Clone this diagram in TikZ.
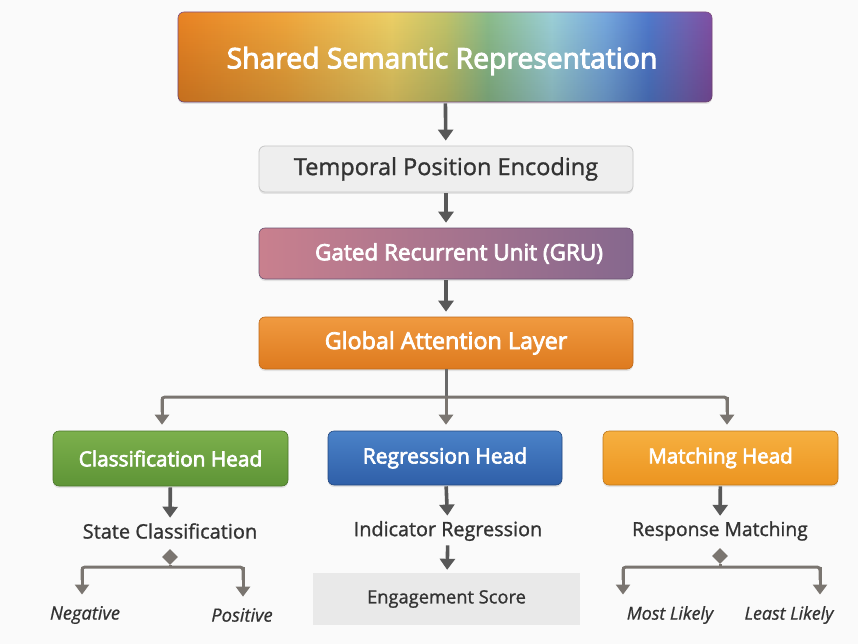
\documentclass[tikz,border=0pt]{standalone}
\usepackage{fontspec}
\setmainfont{Open Sans}
\newfontface\headface{Open Sans}[FakeBold=3.2]
\newfontface\bodyface{Open Sans}[FakeBold=1.2]
\newfontface\leafface{Open Sans Italic}[FakeBold=0.8]
\usetikzlibrary{arrows.meta,shadows,shapes.geometric,fadings}

\definecolor{bgc}{HTML}{FAFAFA}
\definecolor{arrc}{HTML}{585858}
\definecolor{treec}{HTML}{7A7570}
\definecolor{txtc}{HTML}{333333}
\definecolor{tpefill}{HTML}{EEEEEE}
\definecolor{tpeline}{HTML}{C6C6C6}
\definecolor{grul}{HTML}{C9808E}
\definecolor{grur}{HTML}{86688E}
\definecolor{galtop}{HTML}{F09A40}
\definecolor{galbot}{HTML}{DE7A1E}
\definecolor{clstop}{HTML}{7CB04C}
\definecolor{clsbot}{HTML}{5E9436}
\definecolor{regtop}{HTML}{4A82C8}
\definecolor{regbot}{HTML}{2F5FA8}
\definecolor{mattop}{HTML}{F6B040}
\definecolor{matbot}{HTML}{EC9420}
\definecolor{engfill}{HTML}{E9E9E9}

\definecolor{rb0}{HTML}{EA8424}
\definecolor{rb1}{HTML}{F0A63C}
\definecolor{rb2}{HTML}{EDD066}
\definecolor{rb3}{HTML}{C2C46A}
\definecolor{rb4}{HTML}{8CBC8A}
\definecolor{rb5}{HTML}{9CD0D8}
\definecolor{rb6}{HTML}{76A8DE}
\definecolor{rb7}{HTML}{507ACC}
\definecolor{rb8}{HTML}{7064B4}
\definecolor{rb9}{HTML}{8050A4}

% colour band for the shared representation box (path spans 25bp..75bp)
\pgfdeclarehorizontalshading{rainbowband}{100bp}{%
  color(0bp)=(rb0);
  color(25bp)=(rb0);
  color(35bp)=(rb1);
  color(45bp)=(rb2);
  color(50bp)=(rb3);
  color(54bp)=(rb4);
  color(60bp)=(rb5);
  color(65bp)=(rb6);
  color(69bp)=(rb7);
  color(72.5bp)=(rb8);
  color(75bp)=(rb9);
  color(100bp)=(rb9)}

\tikzset{
  box/.style={rounded corners=6pt, align=center, inner sep=0pt,
    drop shadow={shadow xshift=0pt, shadow yshift=-2pt, opacity=0.18}},
  whitetxt/.style={text=white},
  arr/.style={draw=arrc, line width=3.6pt,
    -{Triangle[width=15pt,length=11pt]}, shorten >=5pt, shorten <=1pt},
  treeline/.style={draw=treec, line width=3pt, rounded corners=3pt},
  treearr/.style={draw=treec, line width=3pt,
    -{Triangle[width=14pt,length=10pt]}},
  lbl/.style={text=txtc},
  leaf/.style={text=txtc},
}

\begin{document}
\begin{tikzpicture}[x=1pt,y=-1pt]
\useasboundingbox (0,0) rectangle (858,644);
\fill[bgc] (0,0) rectangle (858,644);

% main stack
\node[box, shading=rainbowband, draw=violet!40!gray, line width=0.6pt,
  minimum width=534pt, minimum height=90pt] (shared) at (445,57) {};
% soft darkening towards the lower edge
\fill[black, opacity=0.16, path fading=north, rounded corners=6pt]
  (shared.north west) rectangle (shared.south east);
\node[whitetxt, font=\headface\fontsize{28.3}{31}\selectfont] (sharedtxt) at (442,61) {Shared Semantic Representation};

\node[box, fill=tpefill, draw=tpeline, line width=0.8pt,
  minimum width=374pt, minimum height=46pt, text=txtc,
  font=\bodyface\fontsize{23.5}{26}\selectfont] (tpe) at (446,169) {Temporal Position Encoding};

\node[box, left color=grul, right color=grur, draw=grur!80!black, line width=0.6pt,
  minimum width=374pt, minimum height=51pt, whitetxt,
  font=\headface\fontsize{22.5}{26}\selectfont] (gru) at (446,253.5) {\hspace*{26pt}Gated Recurrent Unit (GRU)};

\node[box, top color=galtop, bottom color=galbot, draw=galbot!85!black, line width=0.6pt,
  minimum width=374pt, minimum height=52pt, whitetxt,
  font=\headface\fontsize{23.3}{26}\selectfont] (gal) at (446,343) {Global Attention Layer};

\draw[arr] (shared) -- (tpe);
\draw[arr] (tpe) -- (gru);
\draw[arr] (gru) -- (gal);

% heads
\node[box, top color=clstop, bottom color=clsbot, draw=clsbot!80!black, line width=0.6pt,
  minimum width=235pt, minimum height=55pt, whitetxt,
  font=\headface\fontsize{20.8}{24}\selectfont] (cls) at (170.5,458.5) {Classification Head};
\node[box, top color=regtop, bottom color=regbot, draw=regbot!75!black, line width=0.6pt,
  minimum width=234pt, minimum height=54pt, whitetxt,
  font=\headface\fontsize{21}{24}\selectfont] (reg) at (445,458) {Regression Head};
\node[box, top color=mattop, bottom color=matbot, draw=matbot!80!black, line width=0.6pt,
  minimum width=235pt, minimum height=54pt, whitetxt,
  font=\headface\fontsize{20.5}{24}\selectfont] (mat) at (720.5,458) {Matching Head};

% split from the attention layer to the three heads
\coordinate (split) at (446,397);
\coordinate (cl) at (162,397);
\coordinate (cr) at (727,397);
\draw[treeline, draw=arrc!90] (gal.south) -- (split);
\draw[treeline] (cl |- 0,412) -- (cl) -- (cr) -- (cr |- 0,412);
\draw[treearr, shorten >=6pt] (cl) -- (cl |- cls.north);
\draw[treearr, shorten >=6pt] (split) -- (split |- reg.north);
\draw[treearr, shorten >=6pt] (cr) -- (cr |- mat.north);

% task outputs
\node[lbl, font=\bodyface\fontsize{20}{22}\selectfont] (stc) at (170,531) {State Classification};
\node[lbl, font=\bodyface\fontsize{19.8}{22}\selectfont] (ire) at (448,531) {Indicator Regression};
\node[lbl, font=\bodyface\fontsize{19.3}{22}\selectfont] (rma) at (720,531) {Response Matching};

\draw[arr, shorten >=2pt] (cls) -- (stc);
\draw[arr, shorten >=2pt] (reg) -- (ire);
\draw[arr, shorten >=2pt] (mat) -- (rma);

% classification outcomes
\node[diamond, fill=treec, inner sep=0pt, minimum width=16pt, minimum height=16pt] (dc) at (170,557) {};
\coordinate (cla) at (82,567);
\coordinate (clb) at (243,567);
\node[leaf, font=\leafface\fontsize{18.3}{21}\selectfont] (neg) at (85,615) {Negative};
\node[leaf, font=\leafface\fontsize{18.3}{21}\selectfont] (pos) at (242,615) {Positive};
\draw[treeline] (dc) -- (170,567);
\draw[treeline] (82,580) -- (cla) -- (clb) -- (243,580);
\draw[treearr, shorten >=8pt] (cla) -- (cla |- neg.north);
\draw[treearr, shorten >=8pt] (clb) -- (clb |- pos.north);

% regression output
\node[fill=engfill, minimum width=267pt, minimum height=52pt, inner sep=0pt,
  text=txtc, font=\bodyface\fontsize{18.3}{21}\selectfont] (eng) at (446.5,599) {Engagement Score};
\draw[arr, shorten >=3pt] (ire) -- (eng);

% matching outcomes
\node[diamond, fill=treec, inner sep=0pt, minimum width=16pt, minimum height=16pt] (dm) at (720,556) {};
\coordinate (mla) at (623,567);
\coordinate (mlb) at (820,567);
\node[leaf, font=\leafface\fontsize{17.8}{21}\selectfont] (most) at (670,615) {Most Likely};
\node[leaf, font=\leafface\fontsize{17.8}{21}\selectfont] (least) at (789,615) {Least Likely};
\draw[treeline] (dm) -- (720,567);
\draw[treeline] (623,580) -- (mla) -- (mlb) -- (820,580);
\draw[treearr, shorten >=8pt] (mla) -- (mla |- most.north);
\draw[treearr, shorten >=8pt] (mlb) -- (mlb |- least.north);
\end{tikzpicture}
\end{document}
